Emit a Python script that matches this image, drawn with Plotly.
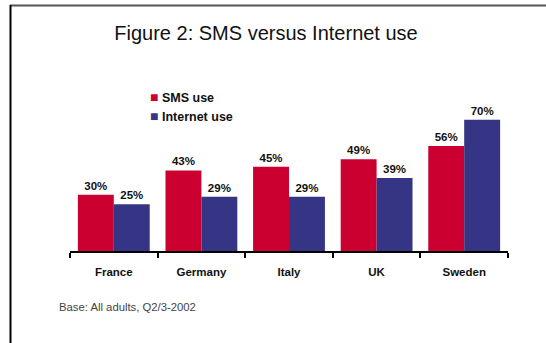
import plotly.graph_objects as go

countries = ["France", "Germany", "Italy", "UK", "Sweden"]
sms_use = [30, 43, 45, 49, 56]
internet_use = [25, 29, 29, 39, 70]
series_names = ["SMS use", "Internet use"]
title_text = "Figure 2: SMS versus Internet use"
note_text = "Base: All adults, Q2/3-2002"

RED = "#CC0030"
BLUE = "#363484"
FONT = "Liberation Sans, Arial, sans-serif"

W, H = 546, 343
L, R, T, B = 70, 38, 101, 92
pw, ph = W - L - R, H - T - B

def px_x(x):
    return (x - L) / pw

def px_y(y):
    return (H - B - y) / ph

fig = go.Figure()
for name, vals, col in [(series_names[0], sms_use, RED), (series_names[1], internet_use, BLUE)]:
    fig.add_trace(go.Bar(
        x=countries, y=vals, name=name, marker=dict(color=col, line=dict(width=0)),
        texttemplate="%{y}%", textposition="outside",
        textfont=dict(family=FONT, size=11.5, color="#111", weight="bold"),
        cliponaxis=False, showlegend=False,
    ))
    fig.add_trace(go.Scatter(
        x=[None], y=[None], mode="markers",
        name=f"<span style='color:{col};font-size:14px'>■</span> {name}",
        marker=dict(symbol="square", size=0.1, color="rgba(0,0,0,0)"),
    ))

fig.update_layout(
    width=W, height=H,
    margin=dict(l=L, r=R, t=T, b=B),
    paper_bgcolor="white", plot_bgcolor="white",
    barmode="group", bargap=0.18, bargroupgap=0,
    title=dict(text=title_text, x=266 / W, xanchor="center", y=1 - 33 / H, yanchor="middle",
               yref="container", font=dict(family=FONT, size=20, color="#111")),
    legend=dict(x=px_x(110), y=px_y(82), xanchor="left", yanchor="top",
                font=dict(family=FONT, size=12.5, color="#111", weight="bold"),
                bgcolor="rgba(0,0,0,0)", tracegroupgap=0, itemwidth=30),
    xaxis=dict(range=[-0.5, 4.5], showline=True, linecolor="black", linewidth=2,
               ticks="outside", tickson="boundaries", ticklen=5, tickwidth=2, tickcolor="black",
               ticklabelstandoff=9,
               tickfont=dict(family=FONT, size=11.5, color="#111", weight="bold"),
               showgrid=False, zeroline=False, fixedrange=True),
    yaxis=dict(range=[0, 80], visible=False, showgrid=False, zeroline=False, fixedrange=True),
    font=dict(family=FONT),
)

fig.add_annotation(text=note_text, xref="paper", yref="paper", x=px_x(57), y=px_y(307),
                   xanchor="left", yanchor="middle", showarrow=False,
                   font=dict(family=FONT, size=11.3, color="#444"))

fig.add_shape(type="line", xref="paper", yref="paper", x0=px_x(10), x1=px_x(W + 2),
              y0=px_y(5.5), y1=px_y(5.5), line=dict(color="#555", width=2))
fig.add_shape(type="line", xref="paper", yref="paper", x0=px_x(10.5), x1=px_x(10.5),
              y0=px_y(5), y1=px_y(H + 2), line=dict(color="black", width=2))

fig.write_html("out.html")
